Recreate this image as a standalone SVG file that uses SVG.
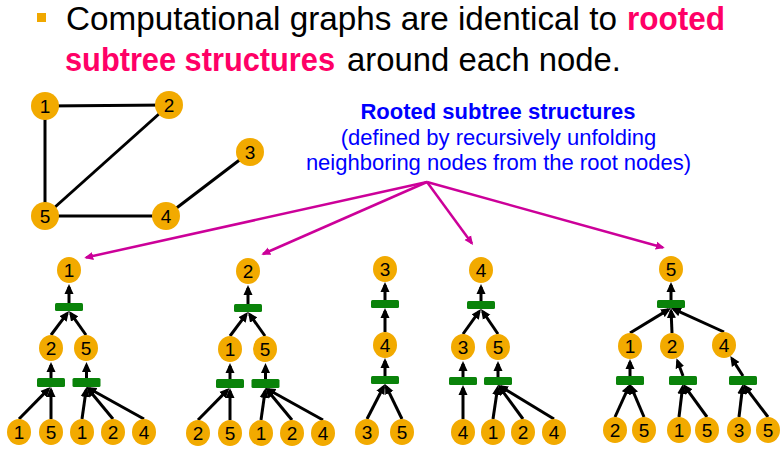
<svg xmlns="http://www.w3.org/2000/svg" width="781" height="470" viewBox="0 0 781 470">
<defs>
<style>
.t{font-family:"Liberation Sans",Arial,sans-serif;font-size:33px}
.b{font-weight:bold;fill:#FF0066}
.k{fill:#000}
.bl{font-family:"Liberation Sans",Arial,sans-serif;font-size:22px;fill:#0000FF;text-anchor:middle}
.n{fill:#F2AA00}
.d{font-family:"Liberation Sans",Arial,sans-serif;font-size:19px;fill:#000;text-anchor:middle}
.bar{fill:#0A830A}
.e{stroke:#000;stroke-width:3;fill:none}
.a{stroke:#000;stroke-width:3;fill:none;marker-end:url(#ah)}
.p{stroke:#CC0099;stroke-width:2.5;fill:none;marker-end:url(#ph)}
</style>
<marker id="ah" viewBox="0 0 10 10" refX="7" refY="5" markerWidth="10" markerHeight="10" markerUnits="userSpaceOnUse" orient="auto"><path d="M0,0.5 L10,5 L0,9.5 z" fill="#000"/></marker>
<marker id="ph" viewBox="0 0 10 10" refX="8" refY="5" markerWidth="9" markerHeight="9" markerUnits="userSpaceOnUse" orient="auto"><path d="M0,0.5 L10,5 L0,9.5 z" fill="#CC0099"/></marker>
</defs>
<rect width="781" height="470" fill="#fff"/>
<g id="title">
<rect x="37" y="13" width="9" height="9" fill="#F0A800"/>
<text class="t k" x="66" y="30" textLength="551" lengthAdjust="spacingAndGlyphs">Computational graphs are identical to</text>
<text class="t b" x="627" y="30" textLength="98" lengthAdjust="spacingAndGlyphs">rooted</text>
<text class="t b" x="65" y="71" textLength="270" lengthAdjust="spacingAndGlyphs">subtree structures</text>
<text class="t k" x="347" y="71" textLength="274" lengthAdjust="spacingAndGlyphs">around each node.</text>
</g>
<g id="caption">
<text class="bl" x="498" y="119" font-weight="bold">Rooted subtree structures</text>
<text class="bl" x="498.5" y="145">(defined by recursively unfolding</text>
<text class="bl" x="498.5" y="170">neighboring nodes from the root nodes)</text>
</g>
<g id="graph-edges">
<line class="e" x1="45" y1="106" x2="169" y2="105"/>
<line class="e" x1="45" y1="106" x2="45" y2="216"/>
<line class="e" x1="169" y1="105" x2="45" y2="216"/>
<line class="e" x1="45" y1="216" x2="166" y2="216"/>
<line class="e" x1="166" y1="216" x2="250" y2="152"/>
</g>
<g id="g1"><circle class="n" cx="45" cy="106" r="14"/><text class="d" x="45" y="113">1</text></g>
<g id="g2"><circle class="n" cx="169" cy="105" r="14"/><text class="d" x="169" y="112">2</text></g>
<g id="g3"><circle class="n" cx="250" cy="152" r="14"/><text class="d" x="250" y="159">3</text></g>
<g id="g4"><circle class="n" cx="166" cy="216" r="14"/><text class="d" x="166" y="223">4</text></g>
<g id="g5"><circle class="n" cx="45" cy="216" r="14"/><text class="d" x="45" y="223">5</text></g>
<g id="connectors">
<line class="p" x1="427" y1="182" x2="86" y2="257.5"/>
<line class="p" x1="427" y1="182" x2="263" y2="254"/>
<line class="p" x1="427" y1="182" x2="472" y2="243.5"/>
<line class="p" x1="427" y1="182" x2="663" y2="247.5"/>
<!-- tree 1 -->
<line class="a" x1="69" y1="303" x2="69" y2="287"/>
<line class="a" x1="51" y1="335" x2="67.2" y2="313.4"/>
<line class="a" x1="86" y1="335" x2="70.7" y2="313.4"/>
<line class="a" x1="51" y1="378" x2="51" y2="365"/>
<line class="a" x1="86.5" y1="378" x2="86.5" y2="365"/>
<line class="a" x1="19" y1="419" x2="48.4" y2="389.1"/>
<line class="a" x1="51" y1="419" x2="51" y2="390"/>
<line class="a" x1="82" y1="419" x2="86.1" y2="390"/>
<line class="a" x1="113" y1="419" x2="88.4" y2="389.3"/>
<line class="a" x1="144" y1="419" x2="89.1" y2="388.5"/>
<!-- tree 2 -->
<g transform="translate(179,1)">
<line class="a" x1="69" y1="303" x2="69" y2="287"/>
<line class="a" x1="51" y1="335" x2="67.2" y2="313.4"/>
<line class="a" x1="86" y1="335" x2="70.7" y2="313.4"/>
<line class="a" x1="51" y1="378" x2="51" y2="365"/>
<line class="a" x1="86.5" y1="378" x2="86.5" y2="365"/>
<line class="a" x1="19" y1="419" x2="48.4" y2="389.1"/>
<line class="a" x1="51" y1="419" x2="51" y2="390"/>
<line class="a" x1="82" y1="419" x2="86.1" y2="390"/>
<line class="a" x1="113" y1="419" x2="88.4" y2="389.3"/>
<line class="a" x1="144" y1="419" x2="89.1" y2="388.5"/>
</g>
<!-- tree 3 -->
<line class="a" x1="385" y1="300" x2="385" y2="285"/>
<line class="a" x1="385" y1="332" x2="385" y2="311"/>
<line class="a" x1="385" y1="376" x2="385" y2="361"/>
<line class="a" x1="367" y1="419" x2="383.6" y2="386.7"/>
<line class="a" x1="402" y1="419" x2="386.3" y2="386.7"/>
<!-- tree 4 -->
<line class="a" x1="481" y1="301" x2="481" y2="287"/>
<line class="a" x1="463" y1="334" x2="479.2" y2="311.4"/>
<line class="a" x1="498" y1="334" x2="482.7" y2="311.5"/>
<line class="a" x1="463" y1="377" x2="463" y2="364"/>
<line class="a" x1="498" y1="377" x2="498" y2="364"/>
<line class="a" x1="463" y1="419" x2="463" y2="388"/>
<line class="a" x1="493" y1="419" x2="497.6" y2="388"/>
<line class="a" x1="523" y1="419" x2="499.8" y2="387.4"/>
<line class="a" x1="554" y1="419" x2="500.6" y2="386.6"/>
<!-- tree 5 -->
<line class="a" x1="671" y1="300" x2="671" y2="285"/>
<line class="a" x1="630" y1="333" x2="668.4" y2="309.6"/>
<line class="a" x1="672" y1="333" x2="671.1" y2="311"/>
<line class="a" x1="724" y1="332" x2="673.7" y2="309.2"/>
<line class="a" x1="630" y1="376" x2="630" y2="362"/>
<line class="a" x1="683" y1="376" x2="677.5" y2="361"/>
<line class="a" x1="743" y1="376" x2="731.9" y2="358.6"/>
<line class="a" x1="615" y1="417" x2="628.8" y2="386.7"/>
<line class="a" x1="644" y1="417" x2="631.2" y2="386.8"/>
<line class="a" x1="679" y1="417" x2="682.6" y2="387"/>
<line class="a" x1="707" y1="417" x2="684.8" y2="386.4"/>
<line class="a" x1="739" y1="417" x2="742.6" y2="387"/>
<line class="a" x1="768" y1="417" x2="744.8" y2="386.4"/>
</g>
<!-- tree 1 nodes -->
<g id="t1-root"><ellipse class="n" cx="69" cy="270" rx="12" ry="13"/><text class="d" x="69" y="277">1</text></g>
<g id="t1-agg"><rect class="bar" x="55" y="303" width="28" height="8" rx="1.5"/></g>
<g id="t1-m2"><ellipse class="n" cx="51" cy="348" rx="12" ry="13"/><text class="d" x="51" y="355">2</text></g>
<g id="t1-m5"><ellipse class="n" cx="86" cy="348" rx="12" ry="13"/><text class="d" x="86" y="355">5</text></g>
<g id="t1-aggL"><rect class="bar" x="37" y="378" width="28" height="9" rx="1.5"/></g>
<g id="t1-aggR"><rect class="bar" x="72.5" y="378" width="28" height="9" rx="1.5"/></g>
<g id="t1-l1"><ellipse class="n" cx="19" cy="432" rx="12" ry="13"/><text class="d" x="19" y="439">1</text></g>
<g id="t1-l2"><ellipse class="n" cx="51" cy="432" rx="12" ry="13"/><text class="d" x="51" y="439">5</text></g>
<g id="t1-l3"><ellipse class="n" cx="82" cy="432" rx="12" ry="13"/><text class="d" x="82" y="439">1</text></g>
<g id="t1-l4"><ellipse class="n" cx="113" cy="432" rx="12" ry="13"/><text class="d" x="113" y="439">2</text></g>
<g id="t1-l5"><ellipse class="n" cx="144" cy="432" rx="12" ry="13"/><text class="d" x="144" y="439">4</text></g>
<!-- tree 2 nodes -->
<g id="t2-root"><ellipse class="n" cx="248" cy="271" rx="12" ry="13"/><text class="d" x="248" y="278">2</text></g>
<g id="t2-agg"><rect class="bar" x="234" y="304" width="28" height="8" rx="1.5"/></g>
<g id="t2-m1"><ellipse class="n" cx="230" cy="349" rx="12" ry="13"/><text class="d" x="230" y="356">1</text></g>
<g id="t2-m5"><ellipse class="n" cx="265" cy="349" rx="12" ry="13"/><text class="d" x="265" y="356">5</text></g>
<g id="t2-aggL"><rect class="bar" x="216" y="379" width="28" height="9" rx="1.5"/></g>
<g id="t2-aggR"><rect class="bar" x="251.5" y="379" width="28" height="9" rx="1.5"/></g>
<g id="t2-l1"><ellipse class="n" cx="198" cy="433" rx="12" ry="13"/><text class="d" x="198" y="440">2</text></g>
<g id="t2-l2"><ellipse class="n" cx="230" cy="433" rx="12" ry="13"/><text class="d" x="230" y="440">5</text></g>
<g id="t2-l3"><ellipse class="n" cx="261" cy="433" rx="12" ry="13"/><text class="d" x="261" y="440">1</text></g>
<g id="t2-l4"><ellipse class="n" cx="292" cy="433" rx="12" ry="13"/><text class="d" x="292" y="440">2</text></g>
<g id="t2-l5"><ellipse class="n" cx="323" cy="433" rx="12" ry="13"/><text class="d" x="323" y="440">4</text></g>
<!-- tree 3 nodes -->
<g id="t3-root"><ellipse class="n" cx="385" cy="269" rx="12" ry="13"/><text class="d" x="385" y="276">3</text></g>
<g id="t3-agg"><rect class="bar" x="371" y="300" width="28" height="8" rx="1.5"/></g>
<g id="t3-m4"><ellipse class="n" cx="385" cy="345" rx="12" ry="13"/><text class="d" x="385" y="352">4</text></g>
<g id="t3-agg2"><rect class="bar" x="371" y="376" width="28" height="8" rx="1.5"/></g>
<g id="t3-l1"><ellipse class="n" cx="367" cy="432" rx="12" ry="13"/><text class="d" x="367" y="439">3</text></g>
<g id="t3-l2"><ellipse class="n" cx="402" cy="432" rx="12" ry="13"/><text class="d" x="402" y="439">5</text></g>
<!-- tree 4 nodes -->
<g id="t4-root"><ellipse class="n" cx="481" cy="270" rx="12" ry="13"/><text class="d" x="481" y="277">4</text></g>
<g id="t4-agg"><rect class="bar" x="467" y="301" width="28" height="8" rx="1.5"/></g>
<g id="t4-m3"><ellipse class="n" cx="463" cy="347" rx="12" ry="13"/><text class="d" x="463" y="354">3</text></g>
<g id="t4-m5"><ellipse class="n" cx="498" cy="347" rx="12" ry="13"/><text class="d" x="498" y="354">5</text></g>
<g id="t4-aggL"><rect class="bar" x="449" y="377" width="28" height="8" rx="1.5"/></g>
<g id="t4-aggR"><rect class="bar" x="484" y="377" width="28" height="8" rx="1.5"/></g>
<g id="t4-l1"><ellipse class="n" cx="463" cy="432" rx="12" ry="13"/><text class="d" x="463" y="439">4</text></g>
<g id="t4-l2"><ellipse class="n" cx="493" cy="432" rx="12" ry="13"/><text class="d" x="493" y="439">1</text></g>
<g id="t4-l3"><ellipse class="n" cx="523" cy="432" rx="12" ry="13"/><text class="d" x="523" y="439">2</text></g>
<g id="t4-l4"><ellipse class="n" cx="554" cy="432" rx="12" ry="13"/><text class="d" x="554" y="439">4</text></g>
<!-- tree 5 nodes -->
<g id="t5-root"><ellipse class="n" cx="671" cy="269" rx="12" ry="13"/><text class="d" x="671" y="276">5</text></g>
<g id="t5-agg"><rect class="bar" x="657" y="300" width="28" height="8" rx="1.5"/></g>
<g id="t5-m1"><ellipse class="n" cx="630" cy="346" rx="12" ry="13"/><text class="d" x="630" y="353">1</text></g>
<g id="t5-m2"><ellipse class="n" cx="672" cy="346" rx="12" ry="13"/><text class="d" x="672" y="353">2</text></g>
<g id="t5-m4"><ellipse class="n" cx="724" cy="345" rx="12" ry="13"/><text class="d" x="724" y="352">4</text></g>
<g id="t5-aggL"><rect class="bar" x="616" y="376" width="28" height="9" rx="1.5"/></g>
<g id="t5-aggM"><rect class="bar" x="669" y="376" width="28" height="9" rx="1.5"/></g>
<g id="t5-aggR"><rect class="bar" x="729" y="376" width="28" height="9" rx="1.5"/></g>
<g id="t5-l1"><ellipse class="n" cx="615" cy="430" rx="12" ry="13"/><text class="d" x="615" y="437">2</text></g>
<g id="t5-l2"><ellipse class="n" cx="644" cy="430" rx="12" ry="13"/><text class="d" x="644" y="437">5</text></g>
<g id="t5-l3"><ellipse class="n" cx="679" cy="430" rx="12" ry="13"/><text class="d" x="679" y="437">1</text></g>
<g id="t5-l4"><ellipse class="n" cx="707" cy="430" rx="12" ry="13"/><text class="d" x="707" y="437">5</text></g>
<g id="t5-l5"><ellipse class="n" cx="739" cy="430" rx="12" ry="13"/><text class="d" x="739" y="437">3</text></g>
<g id="t5-l6"><ellipse class="n" cx="768" cy="430" rx="12" ry="13"/><text class="d" x="768" y="437">5</text></g>
</svg>
